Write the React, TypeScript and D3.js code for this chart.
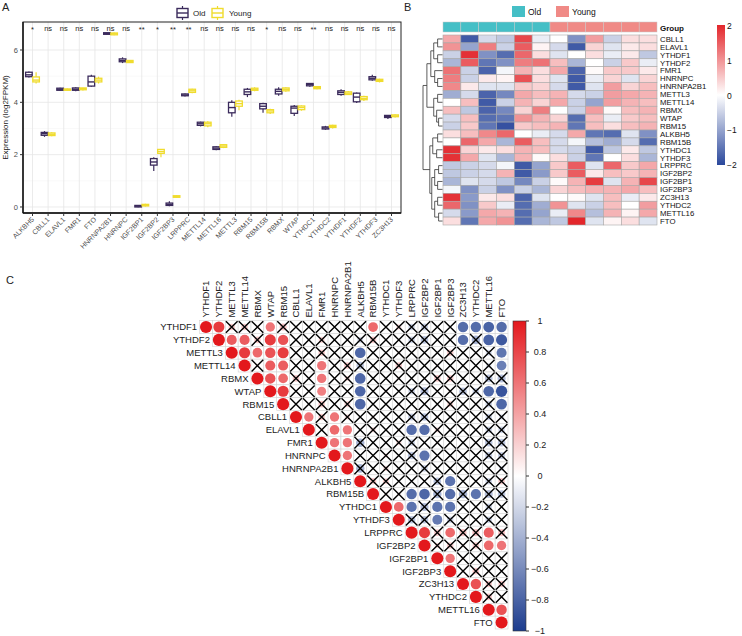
import { useEffect, useRef } from 'react';
import * as d3 from 'd3';

const FONT = '"Liberation Sans", Arial, Helvetica, sans-serif';

// ---- A: expression boxplots (Old vs Young) ----
const boxGenes = ['ALKBH5', 'CBLL1', 'ELAVL1', 'FMR1', 'FTO', 'HNRNPA2B1', 'HNRNPC', 'IGF2BP1', 'IGF2BP2', 'IGF2BP3', 'LRPPRC', 'METTL14', 'METTL16', 'METTL3', 'RBM15', 'RBM15B', 'RBMX', 'WTAP', 'YTHDC1', 'YTHDC2', 'YTHDF1', 'YTHDF2', 'YTHDF3', 'ZC3H13'];
const boxSignif = ['*', 'ns', 'ns', 'ns', 'ns', 'ns', 'ns', '**', '*', '**', '**', 'ns', 'ns', 'ns', 'ns', '*', 'ns', 'ns', '**', 'ns', 'ns', 'ns', 'ns', 'ns'];
// [lower whisker, q1, median, q3, upper whisker]
const oldStats = [
  [4.95, 4.98, 5.05, 5.15, 5.18], [2.68, 2.74, 2.8, 2.85, 2.9], [4.43, 4.46, 4.5, 4.54, 4.56],
  [4.42, 4.46, 4.5, 4.55, 4.58], [4.6, 4.62, 4.78, 5.0, 5.05], [6.58, 6.6, 6.63, 6.66, 6.67],
  [5.5, 5.55, 5.6, 5.66, 5.72], [-0.01, 0.0, 0.03, 0.06, 0.07], [1.38, 1.6, 1.72, 1.85, 1.9],
  [0.03, 0.06, 0.1, 0.15, 0.22], [4.22, 4.25, 4.28, 4.32, 4.34], [3.08, 3.12, 3.18, 3.24, 3.26],
  [2.17, 2.2, 2.25, 2.3, 2.32], [3.45, 3.6, 3.8, 4.0, 4.08], [4.2, 4.3, 4.4, 4.5, 4.55],
  [3.6, 3.75, 3.85, 3.95, 3.98], [4.25, 4.32, 4.42, 4.5, 4.58], [3.48, 3.58, 3.78, 3.85, 3.9],
  [4.6, 4.63, 4.68, 4.72, 4.74], [2.95, 2.98, 3.02, 3.06, 3.1], [4.25, 4.3, 4.38, 4.44, 4.5],
  [3.97, 4.02, 4.2, 4.35, 4.38], [4.82, 4.86, 4.92, 4.98, 5.05], [3.36, 3.42, 3.46, 3.5, 3.52],
];
const youngStats = [
  [4.72, 4.78, 4.85, 4.97, 5.15], [2.7, 2.73, 2.78, 2.83, 2.86], [4.44, 4.46, 4.49, 4.51, 4.53],
  [4.45, 4.48, 4.52, 4.55, 4.56], [4.72, 4.78, 4.85, 4.92, 4.98], [6.56, 6.58, 6.62, 6.65, 6.67],
  [5.5, 5.52, 5.56, 5.6, 5.62], [0.02, 0.04, 0.07, 0.1, 0.12], [1.9, 2.05, 2.12, 2.2, 2.22],
  [0.35, 0.37, 0.4, 0.43, 0.45], [4.35, 4.38, 4.44, 4.5, 4.52], [3.05, 3.1, 3.18, 3.24, 3.28],
  [2.25, 2.28, 2.33, 2.38, 2.4], [3.7, 3.85, 3.95, 4.05, 4.1], [4.42, 4.46, 4.5, 4.54, 4.58],
  [3.55, 3.6, 3.67, 3.72, 3.75], [4.4, 4.44, 4.5, 4.55, 4.58], [3.68, 3.72, 3.8, 3.86, 3.88],
  [4.5, 4.52, 4.56, 4.6, 4.62], [3.0, 3.04, 3.08, 3.12, 3.14], [4.28, 4.3, 4.35, 4.4, 4.43],
  [4.05, 4.1, 4.15, 4.22, 4.25], [4.76, 4.8, 4.84, 4.88, 4.9], [3.42, 3.45, 3.48, 3.52, 3.54],
];
const yTicksA = [0, 2, 4, 6];

// ---- B: scaled expression heatmap ----
const heatGenes = ['CBLL1', 'ELAVL1', 'YTHDF1', 'YTHDF2', 'FMR1', 'HNRNPC', 'HNRNPA2B1', 'METTL3', 'METTL14', 'RBMX', 'WTAP', 'RBM15', 'ALKBH5', 'RBM15B', 'YTHDC1', 'YTHDF3', 'LRPPRC', 'IGF2BP2', 'IGF2BP1', 'IGF2BP3', 'ZC3H13', 'YTHDC2', 'METTL16', 'FTO'];
const heatGroups = ['Old', 'Old', 'Old', 'Old', 'Old', 'Old', 'Young', 'Young', 'Young', 'Young', 'Young', 'Young'];
const heatValues = [
  [0.8, -1.8, -0.4, -0.6, 1.7, -0.2, 0, -1.2, 0.9, -0.5, 0.3, 0.3],
  [1.0, -1.0, 1.2, -0.5, 1.5, 0.1, -0.4, -1.8, 0.4, -0.3, 0.2, 0.3],
  [-0.5, 1.9, -1.2, -1.6, 1.4, 0.3, -0.3, 0, 0.3, -0.2, 0.2, -0.6],
  [-0.8, 1.5, -1.5, -1.2, 1.2, 1.3, 0.6, -0.8, 0, -0.5, 0.5, -0.2],
  [1.3, -0.5, -1.7, -0.1, 0.7, 0.3, 0.8, -1.7, 0.05, 0.5, 0.5, 0.2],
  [1.2, -0.5, 0.2, 0.1, 1.6, 0.3, -0.3, -1.8, -0.2, 0.4, -0.3, 0.4],
  [1.1, 0.2, -0.3, -0.3, 0.5, 0.4, -0.4, -1.8, -0.3, 0.9, 0.4, 0.6],
  [-0.9, -0.4, -1.7, -1.3, 0.8, 0.6, 0.7, -0.4, -0.5, 0.9, 0.8, 0.7],
  [0, 0.6, -1.8, -0.5, 0.7, 0.4, 0.8, -0.5, -1.0, 0.9, 0.7, 0.6],
  [0.6, -0.6, -1.7, -1.3, 0.4, 1.2, 0, -0.5, 0.9, 0.05, 0.6, 0.7],
  [-0.4, 0.6, -1.6, -1.5, 1.0, 0.7, 0.4, -1.6, 0.6, -0.2, 0.5, 0.6],
  [-0.5, 0.5, -1.5, -1.9, 0.5, 0.6, 0.7, -1.5, 0.6, 0.3, 0.6, 0.7],
  [0.3, 0.6, 1.1, 1.4, 0, -0.2, -0.4, 0.8, -1.5, -1.6, -0.3, -1.2],
  [0, 1.4, 0.8, -0.8, 1.5, 0.6, -0.4, -0.1, -0.7, -0.9, -0.4, -1.6],
  [1.9, 0.4, 0.2, 0.3, 0.7, 0.6, -0.4, -0.5, -1.8, -0.6, 0.2, -0.6],
  [1.9, 0.8, -0.3, -0.8, 0.7, 0.05, 0.3, -0.5, -1.5, 0, 0.3, -0.8],
  [-0.6, -0.5, -0.4, -0.1, -1.8, -1.0, 0.5, 1.5, -0.3, 1.4, 0.5, 0.8],
  [-0.6, -0.5, -0.4, 0.7, -1.8, -1.1, 0.5, 1.5, 0.2, 0.6, 0.5, 0.7],
  [-0.8, -0.3, -0.4, -0.6, -1.3, -0.5, 0.05, 0.7, 1.8, -0.3, 0.7, 1.7],
  [-0.1, -1.2, -0.5, -1.2, -0.5, -0.8, 0.4, 0.6, 0.7, 0.7, 0.8, 0.6],
  [1.9, -1.1, 0.2, 0.3, -1.7, -0.3, 0, 0.05, -0.3, 0.6, -0.2, 0.2],
  [1.4, -1.2, 0.5, -0.2, -1.6, -0.9, 1.0, -0.3, -0.5, 0.6, 0, 0.9],
  [-0.4, -1.1, 0.8, 0.7, -1.6, -1.0, -0.2, 1.1, -0.7, 0.7, 0.1, 0.8],
  [0.3, -1.5, 0.8, 1.0, -1.6, -0.8, -0.6, 2.0, -0.3, 0.1, 0.3, -0.3],
];
const heatTicks = [2, 1, 0, -1, -2];
// row clustering, h = merge height
const rowTree = {
  h: 20, c: [
    { h: 16, c: [
      { h: 12, c: [
        { h: 9, c: [{ h: 5, c: ['CBLL1', 'ELAVL1'] }, { h: 5, c: ['YTHDF1', 'YTHDF2'] }] },
        { h: 8, c: ['FMR1', { h: 5, c: ['HNRNPC', 'HNRNPA2B1'] }] },
      ] },
      { h: 9, c: [{ h: 5, c: ['METTL3', 'METTL14'] }, { h: 6, c: ['RBMX', { h: 4, c: ['WTAP', 'RBM15'] }] }] },
    ] },
    { h: 13, c: [
      { h: 10, c: [{ h: 5, c: ['ALKBH5', 'RBM15B'] }, { h: 6, c: ['YTHDC1', 'YTHDF3'] }] },
      { h: 11, c: [
        { h: 8, c: [{ h: 4, c: ['LRPPRC', 'IGF2BP2'] }, { h: 5, c: ['IGF2BP1', 'IGF2BP3'] }] },
        { h: 8, c: [{ h: 5, c: ['ZC3H13', 'YTHDC2'] }, { h: 4, c: ['METTL16', 'FTO'] }] },
      ] },
    ] },
  ],
};

// ---- C: correlation matrix (upper triangle) ----
const corrGenes = ['YTHDF1', 'YTHDF2', 'METTL3', 'METTL14', 'RBMX', 'WTAP', 'RBM15', 'CBLL1', 'ELAVL1', 'FMR1', 'HNRNPC', 'HNRNPA2B1', 'ALKBH5', 'RBM15B', 'YTHDC1', 'YTHDF3', 'LRPPRC', 'IGF2BP2', 'IGF2BP1', 'IGF2BP3', 'ZC3H13', 'YTHDC2', 'METTL16', 'FTO'];
// row i holds r for columns i+1 .. 23
const corrUpper = [
  [0.85, 0.3, 0.3, 0.1, 0.6, 0.35, 0.05, 0, 0, 0, 0, -0.05, 0.65, 0, 0.2, -0.3, -0.35, 0, 0, -0.75, -0.75, -0.8, -0.75],
  [0.7, 0.7, 0.3, 0.85, 0.75, 0, 0, 0.25, 0, 0, -0.25, 0.3, 0, 0, -0.3, -0.4, 0, 0, -0.75, -0.5, -0.8, -0.85],
  [0.85, 0.65, 0.75, 0.85, 0, 0.05, 0.3, 0, 0.1, -0.78, 0, 0, 0.1, 0, 0, 0, 0.3, 0, 0, -0.25, -0.7],
  [0.1, 0.7, 0.7, 0, 0, 0.6, 0.05, 0.3, -0.4, 0, 0, 0.3, 0, 0, 0.1, 0, 0, 0, -0.2, -0.65],
  [0.75, 0.65, 0.3, 0, 0.6, 0, 0.2, -0.78, 0, 0, 0.1, 0, 0, 0.3, 0.3, 0, 0, -0.4, -0.45],
  [0.85, 0, 0.05, 0.55, 0.1, 0, -0.78, 0, 0.1, 0, -0.3, -0.45, 0, 0.1, -0.4, -0.3, -0.78, -0.88],
  [0, 0.05, 0.3, 0, 0.25, -0.78, 0, 0, 0.1, 0, 0, 0, 0.25, 0, 0, -0.3, -0.78],
  [0.6, 0.3, 0.6, 0.2, 0, 0.1, 0, 0, -0.35, -0.4, 0.1, 0, 0, 0, -0.3, -0.2],
  [0.1, 0.65, 0.6, 0, 0.2, 0, 0.1, -0.75, -0.75, 0.2, 0, 0, 0, -0.3, -0.3],
  [0.6, 0.6, -0.5, 0, 0, 0.2, -0.3, 0, 0.1, 0, 0, 0, -0.4, -0.4],
  [0.6, 0, 0, 0.15, 0, -0.4, -0.72, 0, 0, 0, 0, -0.35, -0.35],
  [-0.5, 0, 0.2, 0, 0, -0.3, 0, 0, 0, 0, 0, -0.2],
  [0.3, 0.25, 0, 0, 0, -0.4, -0.72, 0, 0, -0.3, 0.3],
  [0.1, 0.1, -0.75, -0.78, -0.5, -0.75, -0.5, -0.72, -0.45, -0.4],
  [0.65, -0.72, -0.45, -0.72, -0.72, 0, 0, -0.3, 0],
  [-0.4, -0.4, -0.68, -0.3, 0, 0, -0.3, 0],
  [0.85, 0.3, 0.65, 0.35, 0.35, 0.7, 0.35],
  [0.2, 0.3, 0.1, 0.3, 0.65, 0.6],
  [0.6, 0.1, 0, 0.1, 0],
  [0.1, 0.3, 0, 0],
  [0.75, 0.3, 0.3],
  [0.3, 0.1],
  [0.75],
];
// '1' = significant (circle), '0' = crossed out
const corrSig = [
  '10001000000010000001111',
  '1101100000000000001011',
  '111100000100000000001',
  '01100100000000000001',
  '1100100100000000000',
  '100100100000000011',
  '00000100000000001',
  '1010000000000000',
  '011000011000000',
  '11000000000000',
  '1000001000000',
  '000000000000',
  '00000010000',
  '0011010100',
  '110110000',
  '00100000',
  '1010010',
  '000011',
  '10000',
  '0000',
  '100',
  '00',
  '1',
];
const corrTicks = [1, 0.8, 0.6, 0.4, 0.2, 0, -0.2, -0.4, -0.6, -0.8, -1];

const App = () => {
  const svgRef = useRef(null);

  useEffect(() => {
    const svg = d3.select(svgRef.current);
    svg.selectAll('*').remove();
    svg.attr('width', 742).attr('height', 636).style('font-family', FONT);

    const panelLabel = (x, y, t) => svg.append('text').attr('x', x).attr('y', y)
      .style('font-size', '11px').attr('fill', '#222').text(t);

    // ================= A =================
    panelLabel(2, 11, 'A');
    const ax = d3.scalePoint().domain(boxGenes).range([32.5, 391.5]);
    const ay = d3.scaleLinear().domain([-0.23, 7.07]).range([213, 22]);
    const aLeft = 23, aRight = 401, aTop = 22, aBottom = 213;
    const oldCol = '#3b2b5c', youngCol = '#f0dc2e';

    const gA = svg.append('g');
    // grid
    [1, 3, 5, 7].forEach(v => gA.append('line').attr('x1', aLeft).attr('x2', aRight)
      .attr('y1', ay(v)).attr('y2', ay(v)).attr('stroke', '#f3f3f3').attr('stroke-width', 0.5));
    yTicksA.forEach(v => gA.append('line').attr('x1', aLeft).attr('x2', aRight)
      .attr('y1', ay(v)).attr('y2', ay(v)).attr('stroke', '#e6e6e6').attr('stroke-width', 0.8));
    boxGenes.forEach(g => gA.append('line').attr('x1', ax(g)).attr('x2', ax(g))
      .attr('y1', aTop).attr('y2', aBottom).attr('stroke', '#e6e6e6').attr('stroke-width', 0.8));

    const drawBox = (cx, s, col) => {
      const w = 6.6;
      gA.append('line').attr('x1', cx).attr('x2', cx).attr('y1', ay(s[0])).attr('y2', ay(s[4]))
        .attr('stroke', col).attr('stroke-width', 1.2);
      gA.append('rect').attr('x', cx - w / 2).attr('width', w)
        .attr('y', ay(s[3])).attr('height', Math.max(0.5, ay(s[1]) - ay(s[3])))
        .attr('fill', '#fff').attr('stroke', col).attr('stroke-width', 1.3);
      gA.append('line').attr('x1', cx - w / 2).attr('x2', cx + w / 2).attr('y1', ay(s[2])).attr('y2', ay(s[2]))
        .attr('stroke', col).attr('stroke-width', 1.4);
    };
    boxGenes.forEach((g, i) => {
      drawBox(ax(g) - 3.6, oldStats[i], oldCol);
      drawBox(ax(g) + 3.6, youngStats[i], youngCol);
      gA.append('text').attr('x', ax(g)).attr('y', boxSignif[i] === 'ns' ? 31 : 32)
        .attr('text-anchor', 'middle').style('font-size', '7.5px').attr('fill', '#222')
        .text(boxSignif[i]);
    });

    gA.append('rect').attr('x', aLeft).attr('y', aTop).attr('width', aRight - aLeft).attr('height', aBottom - aTop)
      .attr('fill', 'none').attr('stroke', '#222').attr('stroke-width', 1);
    gA.append('line').attr('x1', aLeft).attr('x2', aLeft).attr('y1', aTop).attr('y2', aBottom).attr('stroke', '#111').attr('stroke-width', 1.4);
    gA.append('line').attr('x1', aLeft).attr('x2', aRight).attr('y1', aBottom).attr('y2', aBottom).attr('stroke', '#111').attr('stroke-width', 1.4);

    yTicksA.forEach(v => {
      gA.append('line').attr('x1', aLeft - 3).attr('x2', aLeft).attr('y1', ay(v)).attr('y2', ay(v)).attr('stroke', '#333');
      gA.append('text').attr('x', aLeft - 5).attr('y', ay(v) + 2.6).attr('text-anchor', 'end')
        .style('font-size', '7.5px').attr('fill', '#4d4d4d').text(v);
    });
    boxGenes.forEach(g => {
      gA.append('line').attr('x1', ax(g)).attr('x2', ax(g)).attr('y1', aBottom).attr('y2', aBottom + 3).attr('stroke', '#333');
      gA.append('text').attr('transform', `translate(${ax(g) + 2},${aBottom + 7}) rotate(-45)`)
        .attr('text-anchor', 'end').style('font-size', '7px').attr('fill', '#4d4d4d').text(g);
    });
    gA.append('text').attr('transform', `translate(8,${(aTop + aBottom) / 2}) rotate(-90)`)
      .attr('text-anchor', 'middle').style('font-size', '8px').attr('fill', '#222')
      .text('Expression  (log2FPKM)');

    // legend
    const legendIcon = (x, col) => {
      gA.append('line').attr('x1', x + 5.5).attr('x2', x + 5.5).attr('y1', 6).attr('y2', 20).attr('stroke', col).attr('stroke-width', 1.2);
      gA.append('rect').attr('x', x).attr('y', 8.5).attr('width', 11).attr('height', 9)
        .attr('fill', '#fff').attr('stroke', col).attr('stroke-width', 1.4);
      gA.append('line').attr('x1', x).attr('x2', x + 11).attr('y1', 13).attr('y2', 13).attr('stroke', col).attr('stroke-width', 1.4);
    };
    legendIcon(177, oldCol);
    gA.append('text').attr('x', 193).attr('y', 16).style('font-size', '8px').attr('fill', '#222').text('Old');
    legendIcon(212, youngCol);
    gA.append('text').attr('x', 229).attr('y', 16).style('font-size', '8px').attr('fill', '#222').text('Young');

    // ================= B =================
    panelLabel(404, 11, 'B');
    const hx0 = 443, hx1 = 657, hy0 = 35, hy1 = 225;
    const hx = d3.scaleBand().domain(d3.range(heatGroups.length)).range([hx0, hx1]);
    const hy = d3.scaleBand().domain(heatGenes).range([hy0, hy1]);
    const heatColor = d3.scaleLinear().domain([-2, 0, 2]).range(['#2b489c', '#ffffff', '#e3262b']);
    const groupColor = d3.scaleOrdinal().domain(['Old', 'Young']).range(['#45bfc6', '#f08a86']);
    const gB = svg.append('g');

    heatGroups.forEach((grp, j) => gB.append('rect').attr('x', hx(j)).attr('y', 22)
      .attr('width', hx.bandwidth()).attr('height', 10)
      .attr('fill', groupColor(grp)).attr('stroke', '#c8c8c8').attr('stroke-width', 0.5));
    gB.append('text').attr('x', hx1 + 3).attr('y', 30.5).style('font-size', '8px')
      .style('font-weight', 'bold').attr('fill', '#111').text('Group');

    heatValues.forEach((row, i) => {
      row.forEach((v, j) => gB.append('rect').attr('x', hx(j)).attr('y', hy(heatGenes[i]))
        .attr('width', hx.bandwidth()).attr('height', hy.bandwidth())
        .attr('fill', heatColor(v)).attr('stroke', '#a8a8a8').attr('stroke-width', 0.6));
      gB.append('text').attr('x', hx1 + 3).attr('y', hy(heatGenes[i]) + hy.bandwidth() / 2 + 2.8)
        .style('font-size', '7.8px').attr('fill', '#111').text(heatGenes[i]);
    });

    // dendrogram
    const dx = d3.scaleLinear().domain([0, 20]).range([hx0 - 0.5, 423]);
    const layout = node => {
      if (typeof node === 'string') return { x: dx(0), y: hy(node) + hy.bandwidth() / 2 };
      const kids = node.c.map(layout);
      const x = dx(node.h);
      const y = (kids[0].y + kids[1].y) / 2;
      gB.append('path')
        .attr('d', `M${kids[0].x},${kids[0].y}H${x}V${kids[1].y}H${kids[1].x}`)
        .attr('fill', 'none').attr('stroke', '#333').attr('stroke-width', 0.8);
      return { x, y };
    };
    layout(rowTree);

    // group legend
    gB.append('rect').attr('x', 512).attr('y', 6).attr('width', 13).attr('height', 11).attr('fill', groupColor('Old'));
    gB.append('text').attr('x', 528).attr('y', 15).style('font-size', '8.5px').attr('fill', '#111').text('Old');
    gB.append('rect').attr('x', 556).attr('y', 6).attr('width', 13).attr('height', 11).attr('fill', groupColor('Young'));
    gB.append('text').attr('x', 572).attr('y', 15).style('font-size', '8.5px').attr('fill', '#111').text('Young');

    // colour bar
    const defs = svg.append('defs');
    const gradB = defs.append('linearGradient').attr('id', 'heatGrad').attr('x1', 0).attr('x2', 0).attr('y1', 0).attr('y2', 1);
    d3.range(0, 1.0001, 0.1).forEach(t => gradB.append('stop').attr('offset', t).attr('stop-color', heatColor(2 - 4 * t)));
    const hb = d3.scaleLinear().domain([2, -2]).range([26, 165]);
    gB.append('rect').attr('x', 717).attr('y', 25).attr('width', 8).attr('height', 140).attr('fill', 'url(#heatGrad)');
    heatTicks.forEach(v => gB.append('text').attr('x', 727).attr('y', hb(v) + 3)
      .style('font-size', '8.5px').attr('fill', '#111').text(v < 0 ? `\u2212${-v}` : v));

    // ================= C =================
    panelLabel(6, 284, 'C');
    const cell = 12.85, cx0 = 199.6, cy0 = 320.6, n = corrGenes.length;
    const cX = d3.scaleBand().domain(corrGenes).range([cx0, cx0 + n * cell]);
    const cY = d3.scaleBand().domain(corrGenes).range([cy0, cy0 + n * cell]);
    const corrColor = d3.scaleLinear().domain([-1, 0, 1]).range(['#1c3c8e', '#ffffff', '#e3181c']);
    const gC = svg.append('g');

    const cellAt = (i, j) => {
      if (i === j) return { v: 1, sig: true };
      return { v: corrUpper[i][j - i - 1], sig: corrSig[i][j - i - 1] === '1' };
    };

    for (let i = 0; i < n; i++) {
      for (let j = i; j < n; j++) {
        const x = cX(corrGenes[j]), y = cY(corrGenes[i]);
        gC.append('rect').attr('x', x).attr('y', y).attr('width', cell).attr('height', cell)
          .attr('fill', '#fff').attr('stroke', '#d4d4d4').attr('stroke-width', 0.6);
      }
    }
    for (let i = 0; i < n; i++) {
      for (let j = i; j < n; j++) {
        const { v, sig } = cellAt(i, j);
        const x = cX(corrGenes[j]), y = cY(corrGenes[i]);
        const r = Math.sqrt(Math.abs(v)) * (cell / 2 - 0.4);
        if (r > 0.3) {
          gC.append('circle').attr('cx', x + cell / 2).attr('cy', y + cell / 2).attr('r', r)
            .attr('fill', corrColor(v)).attr('opacity', sig ? 1 : 0.75);
        }
        if (!sig) {
          gC.append('path')
            .attr('d', `M${x + 0.6},${y + 0.6}L${x + cell - 0.6},${y + cell - 0.6}M${x + cell - 0.6},${y + 0.6}L${x + 0.6},${y + cell - 0.6}`)
            .attr('stroke', '#000').attr('stroke-width', 1.4);
        }
      }
    }

    corrGenes.forEach((g, k) => {
      gC.append('text').attr('transform', `translate(${cX(g) + cell / 2 + 3.4},${cy0 - 3}) rotate(-90)`)
        .style('font-size', '9.5px').attr('fill', '#222').text(g);
      gC.append('text').attr('x', cx0 + k * cell - 2.5).attr('y', cY(g) + cell / 2 + 3.4)
        .attr('text-anchor', 'end').style('font-size', '9.5px').attr('fill', '#222').text(g);
    });

    const gradC = defs.append('linearGradient').attr('id', 'corrGrad').attr('x1', 0).attr('x2', 0).attr('y1', 0).attr('y2', 1);
    d3.range(0, 1.0001, 0.05).forEach(t => gradC.append('stop').attr('offset', t).attr('stop-color', corrColor(1 - 2 * t)));
    const cb = d3.scaleLinear().domain([1, -1]).range([321, 631]);
    gC.append('rect').attr('x', 513).attr('y', 321).attr('width', 13).attr('height', 310)
      .attr('fill', 'url(#corrGrad)').attr('stroke', '#333').attr('stroke-width', 0.6);
    corrTicks.forEach(v => {
      gC.append('line').attr('x1', 526).attr('x2', 529).attr('y1', cb(v)).attr('y2', cb(v)).attr('stroke', '#333');
      gC.append('text').attr('x', 540).attr('y', cb(v) + 3.3).attr('text-anchor', 'middle')
        .style('font-size', '9px').attr('fill', '#222')
        .text(v < 0 ? `\u2212${-v}` : v);
    });
  }, []);

  return (
    <div style={{ position: 'absolute', left: 0, top: 0 }}>
      <svg ref={svgRef} style={{ display: 'block' }}></svg>
    </div>
  );
};

export default App;
